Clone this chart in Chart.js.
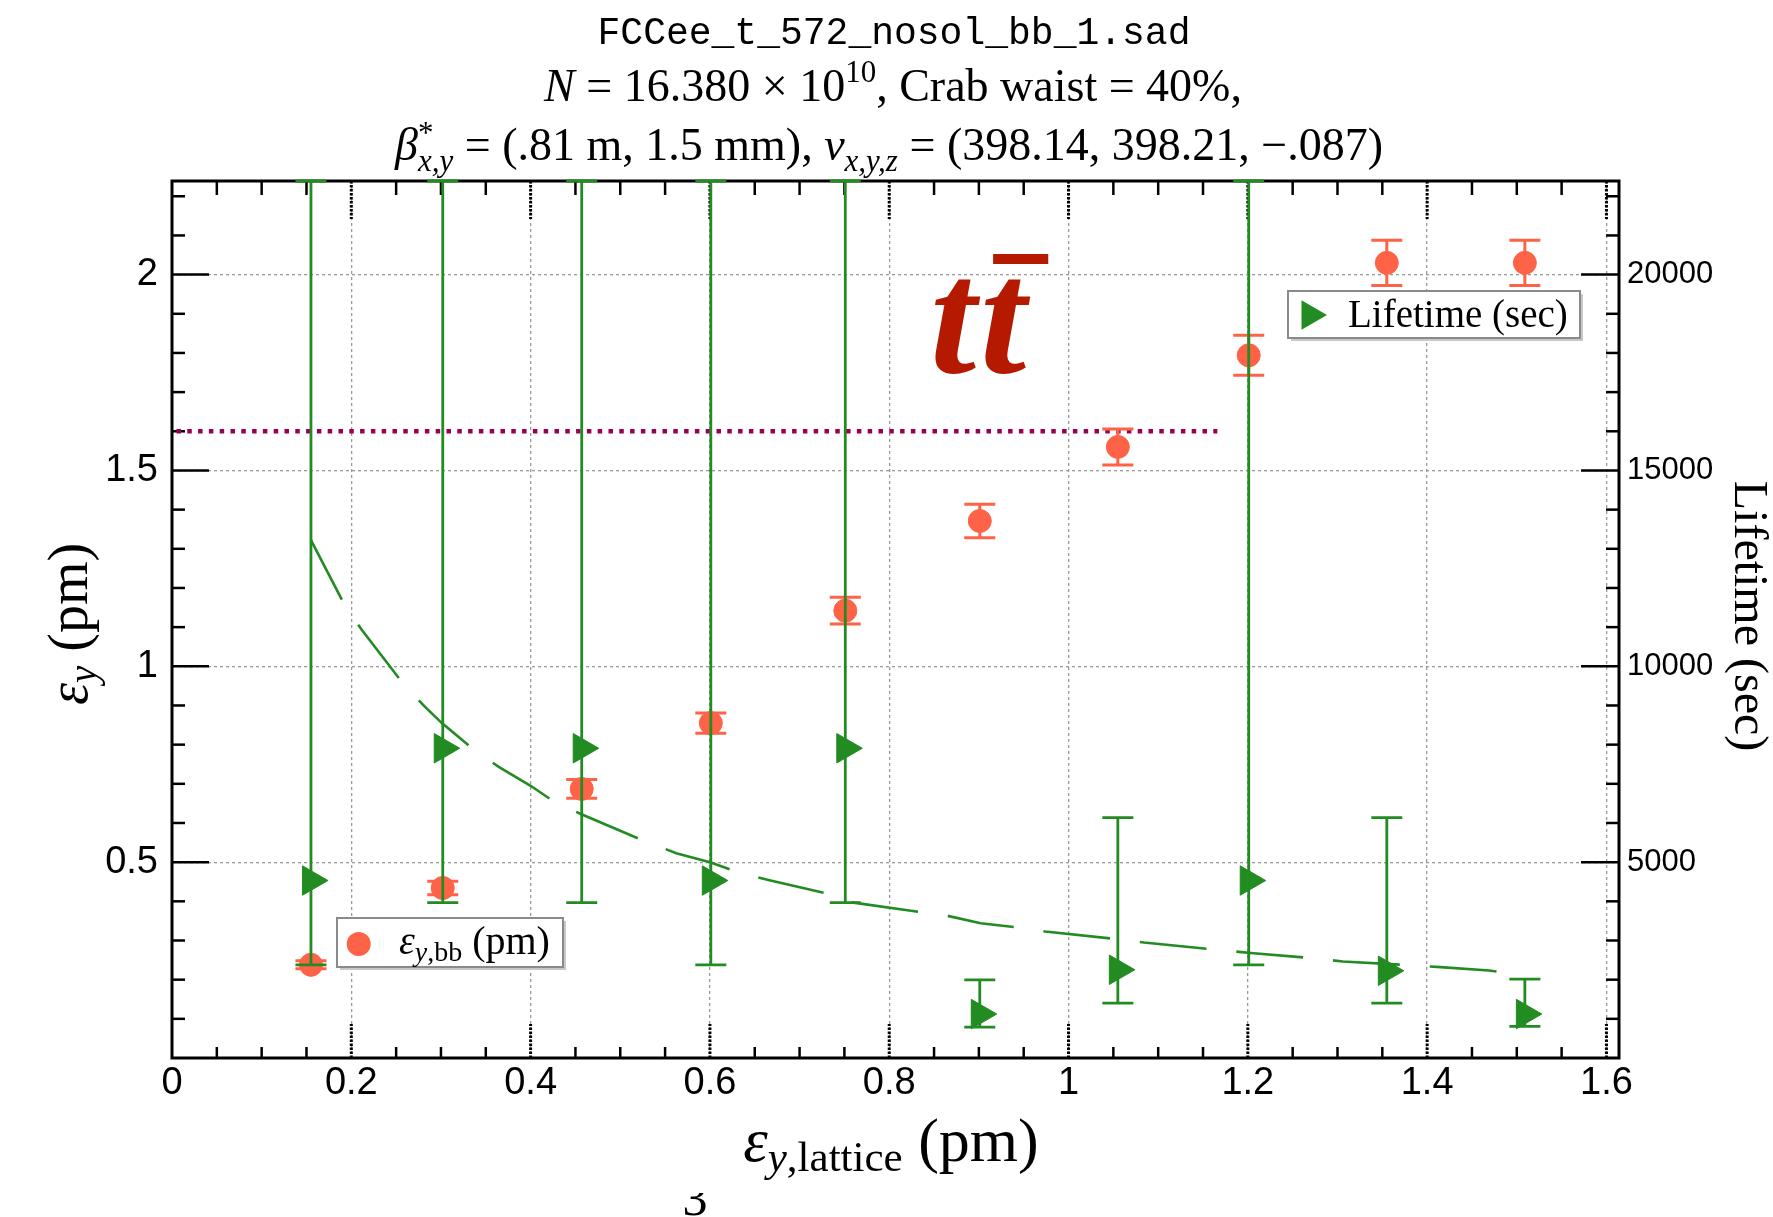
<!DOCTYPE html>
<html>
<head>
<meta charset="utf-8">
<script src="https://cdn.jsdelivr.net/npm/chart.js@4.4.1/dist/chart.umd.min.js"></script>
<style>
html,body{margin:0;padding:0;background:#fff;}
canvas{display:block;}
</style>
</head>
<body>
<canvas id="c" width="1773" height="1217" style="width:1773px;height:1217px"></canvas>
<script>
// ---------------- data ----------------
const xVals      = [0.155, 0.302, 0.457, 0.601, 0.751, 0.901, 1.055, 1.201, 1.355, 1.509];
const emitBB     = [0.238, 0.434, 0.687, 0.855, 1.142, 1.371, 1.560, 1.794, 2.030, 2.030];
const emitBBErr  = [0.010, 0.017, 0.024, 0.026, 0.034, 0.043, 0.046, 0.051, 0.058, 0.058];
const lifetime   = [4531, 7908, 7908, 4531, 7908, 1122, 2253, 4531, 2227, 1122];
const lifeLo     = [2380, 3969, 3969, 2380, 3969, 790, 1403, 2380, 1403, 806];
const lifeHi     = [22390, 22390, 22390, 22390, 22390, 1997, 6138, 22390, 6138, 2015];
const curveX     = [0.155, 0.192, 0.211, 0.258, 0.282, 0.301, 0.338, 0.364, 0.400, 0.429, 0.458, 0.530, 0.5625, 0.601, 0.634, 0.664, 0.734, 0.750, 0.837, 0.865, 0.902, 0.940, 0.974, 1.054, 1.084, 1.158, 1.203, 1.272, 1.306, 1.380, 1.415, 1.469, 1.4915];
const curveY     = [13220, 11590, 10950, 9550, 8970, 8550, 7850, 7440, 6950, 6500, 6210, 5510, 5230, 4990, 4720, 4550, 4180, 4000, 3720, 3630, 3440, 3340, 3230, 3035, 2950, 2780, 2680, 2550, 2465, 2370, 2320, 2235, 2168];
const refLineX   = [0.005, 1.166];
const refLineY   = [1.6, 1.6];
const xTickVals  = [0, 0.2, 0.4, 0.6, 0.8, 1, 1.2, 1.4, 1.6];
const xTickLabels= ['0', '0.2', '0.4', '0.6', '0.8', '1', '1.2', '1.4', '1.6'];
const yTickVals  = [0.5, 1, 1.5, 2];
const yTickLabels= ['0.5', '1', '1.5', '2'];
const y2TickVals = [5000, 10000, 15000, 20000];
const y2TickLabels=['5000', '10000', '15000', '20000'];

// ---------------- styles ----------------
const RED = '#FF6347';
const GREEN = '#228B22';
const SERIF = "'Liberation Serif','Times New Roman',serif";
const SANS = "'Liberation Sans',Arial,sans-serif";
const MONO = "'Liberation Mono','Courier New',monospace";

function partsWidth(ctx, parts){
  let w = 0;
  for (const p of parts){ ctx.font = p.f; if (!p.stack) w += ctx.measureText(p.t).width; }
  return w;
}
function drawParts(ctx, parts, x, y, align){
  const w = partsWidth(ctx, parts);
  let cx = align === 'center' ? x - w/2 : (align === 'right' ? x - w : x);
  ctx.textAlign = 'left'; ctx.textBaseline = 'alphabetic';
  for (const p of parts){
    ctx.font = p.f;
    ctx.fillText(p.t, cx, y + (p.dy || 0));
    if (!p.stack) cx += ctx.measureText(p.t).width;
  }
}

const errorBars = {
  id: 'errorBars',
  beforeDatasetDraw(chart, args){
    const ctx = chart.ctx;
    const x = chart.scales.x;
    if (args.index === 1){
      const y = chart.scales.y;
      ctx.save(); ctx.strokeStyle = RED; ctx.lineWidth = 3;
      xVals.forEach((xv, i) => {
        const px = x.getPixelForValue(xv);
        const p1 = y.getPixelForValue(emitBB[i] + emitBBErr[i]);
        const p2 = y.getPixelForValue(emitBB[i] - emitBBErr[i]);
        ctx.beginPath();
        ctx.moveTo(px, p1); ctx.lineTo(px, p2);
        ctx.moveTo(px - 15.5, p1); ctx.lineTo(px + 15.5, p1);
        ctx.moveTo(px - 15.5, p2); ctx.lineTo(px + 15.5, p2);
        ctx.stroke();
      });
      ctx.restore();
    }
    if (args.index === 0){
      const y2 = chart.scales.y2;
      ctx.save(); ctx.strokeStyle = GREEN; ctx.lineWidth = 2.8;
      xVals.forEach((xv, i) => {
        const px = x.getPixelForValue(xv);
        const p1 = y2.getPixelForValue(lifeHi[i]);
        const p2 = y2.getPixelForValue(lifeLo[i]);
        ctx.beginPath();
        ctx.moveTo(px, p1); ctx.lineTo(px, p2);
        ctx.moveTo(px - 15.5, p1); ctx.lineTo(px + 15.5, p1);
        ctx.moveTo(px - 15.5, p2); ctx.lineTo(px + 15.5, p2);
        ctx.stroke();
      });
      ctx.restore();
    }
  }
};

const frame = {
  id: 'frame',
  beforeDatasetsDraw(chart){
    const {ctx, chartArea:{left, right, top, bottom}, scales:{x, y, y2}} = chart;
    ctx.save();
    ctx.strokeStyle = '#000';
    const seg = (a, b, c, d) => { ctx.beginPath(); ctx.moveTo(a, b); ctx.lineTo(c, d); ctx.stroke(); };
    ctx.lineWidth = 2.5;
    for (let i = 1; i <= 22; i++){
      const py = y.getPixelForValue(i / 10);
      seg(left, py, left + (i % 5 === 0 ? 37 : 13), py);
    }
    for (let i = 1; i <= 22; i++){
      const py = y2.getPixelForValue(i * 1000);
      seg(right - (i % 5 === 0 ? 38 : 13), py, right, py);
    }
    for (let i = 1; i <= 32; i++){
      const px = x.getPixelForValue(i * 0.05);
      const major = i % 4 === 0;
      if (major){ ctx.setLineDash([2.5, 1.5]); ctx.lineWidth = 3; } else { ctx.setLineDash([]); ctx.lineWidth = 2.5; }
      seg(px, bottom, px, bottom - (major ? 34 : 11));
      seg(px, top, px, top + (major ? 38 : 14));
    }
    ctx.setLineDash([]);
    ctx.lineWidth = 3;
    ctx.strokeRect(left, top, right - left, bottom - top);
    ctx.restore();
  }
};

function legendBox(ctx, x0, y0, x1, y1){
  ctx.fillStyle = '#c8c8c8';
  ctx.fillRect(x0 + 3, y0 + 3, x1 - x0, y1 - y0);
  ctx.fillStyle = '#fff';
  ctx.fillRect(x0, y0, x1 - x0, y1 - y0);
  ctx.strokeStyle = '#8a8a8a'; ctx.lineWidth = 2;
  ctx.strokeRect(x0, y0, x1 - x0, y1 - y0);
}

const annotations = {
  id: 'annotations',
  afterDraw(chart){
    const ctx = chart.ctx;
    ctx.save();
    ctx.fillStyle = '#000';
    // title
    ctx.font = `38px ${MONO}`; ctx.textAlign = 'center'; ctx.textBaseline = 'alphabetic';
    ctx.fillText('FCCee_t_572_nosol_bb_1.sad', 894, 44);
    drawParts(ctx, [
      {t:'N', f:`italic 46px ${SERIF}`},
      {t:' = 16.380 × 10', f:`46px ${SERIF}`},
      {t:'10', f:`31px ${SERIF}`, dy:-19},
      {t:', Crab waist = 40%,', f:`46px ${SERIF}`}
    ], 893, 101, 'center');
    drawParts(ctx, [
      {t:'β', f:`italic 46px ${SERIF}`},
      {t:'*', f:`31px ${SERIF}`, dy:-17, stack:true},
      {t:'x,y', f:`italic 31px ${SERIF}`, dy:11},
      {t:' = (.81 m, 1.5 mm), ', f:`46px ${SERIF}`},
      {t:'ν', f:`italic 46px ${SERIF}`},
      {t:'x,y,z', f:`italic 31px ${SERIF}`, dy:11},
      {t:' = (398.14, 398.21, −.087)', f:`46px ${SERIF}`}
    ], 889, 160, 'center');
    // x axis title
    drawParts(ctx, [
      {t:'ε', f:`italic 62px ${SERIF}`},
      {t:'y', f:`italic 43px ${SERIF}`, dy:10},
      {t:',lattice', f:`43px ${SERIF}`, dy:10},
      {t:' (pm)', f:`62px ${SERIF}`}
    ], 891, 1161, 'center');
    // left axis title
    ctx.save(); ctx.translate(87, 624); ctx.rotate(-Math.PI/2);
    drawParts(ctx, [
      {t:'ε', f:`italic 56px ${SERIF}`},
      {t:'y', f:`italic 39px ${SERIF}`, dy:9},
      {t:' (pm)', f:`56px ${SERIF}`}
    ], 0, 0, 'center');
    ctx.restore();
    // right axis title
    ctx.save(); ctx.translate(1735, 616); ctx.rotate(Math.PI/2);
    drawParts(ctx, [{t:'Lifetime (sec)', f:`48px ${SERIF}`}], 0, 0, 'center');
    ctx.restore();
    // t tbar label
    ctx.fillStyle = '#B51A00';
    ctx.font = `italic bold 166px ${SERIF}`;
    ctx.textAlign = 'left';
    const wt = ctx.measureText('t').width;
    ctx.fillText('t', 930, 373);
    ctx.fillText('t', 930 + wt + 4, 373);
    ctx.fillRect(930 + wt + 17, 254, wt + 9, 10);
    // legends
    legendBox(ctx, 1288, 291, 1580, 338);
    ctx.fillStyle = GREEN;
    ctx.beginPath();
    ctx.moveTo(1327, 315); ctx.lineTo(1301.5, 300.3); ctx.lineTo(1301.5, 329.7); ctx.closePath(); ctx.fill();
    ctx.fillStyle = '#000';
    drawParts(ctx, [{t:'Lifetime (sec)', f:`39px ${SERIF}`}], 1348, 327, 'left');
    legendBox(ctx, 337, 918, 563, 967);
    ctx.fillStyle = RED;
    ctx.beginPath(); ctx.arc(358.7, 944, 12, 0, Math.PI * 2); ctx.fill();
    ctx.fillStyle = '#000';
    drawParts(ctx, [
      {t:'ε', f:`italic 40px ${SERIF}`},
      {t:'y', f:`italic 28px ${SERIF}`, dy:7},
      {t:',bb', f:`28px ${SERIF}`, dy:7},
      {t:' (pm)', f:`40px ${SERIF}`}
    ], 399, 954, 'left');
    // page number fragment at bottom
    ctx.save();
    ctx.beginPath(); ctx.rect(0, 1193, 1773, 30); ctx.clip();
    ctx.font = `50px ${SERIF}`; ctx.textAlign = 'center';
    ctx.fillText('3', 695, 1215);
    ctx.restore();
    ctx.restore();
  }
};

const gridCommon = { color: '#9a9a9a', lineWidth: 1.3, drawTicks: false };

new Chart(document.getElementById('c'), {
  type: 'scatter',
  data: {
    datasets: [
      {
        label: 'Lifetime (sec)', yAxisID: 'y2',
        data: xVals.map((xv, i) => ({x: xv, y: lifetime[i]})),
        pointStyle: 'triangle', rotation: 90, pointRadius: 17,
        backgroundColor: GREEN, borderColor: GREEN, borderWidth: 1
      },
      {
        label: 'εy,bb (pm)', yAxisID: 'y',
        data: xVals.map((xv, i) => ({x: xv, y: emitBB[i]})),
        pointStyle: 'circle', pointRadius: 11.5,
        backgroundColor: RED, borderColor: RED, borderWidth: 1
      },
      {
        label: 'curve', yAxisID: 'y2', showLine: true,
        data: curveX.map((xv, i) => ({x: xv, y: curveY[i]})),
        pointRadius: 0, borderColor: GREEN, borderWidth: 2.6, borderDash: [67, 30], tension: 0
      },
      {
        label: 'limit', yAxisID: 'y', showLine: true,
        data: refLineX.map((xv, i) => ({x: xv, y: refLineY[i]})),
        pointRadius: 0, borderColor: '#990055', borderWidth: 4.5, borderDash: [4.5, 6.3], borderCapStyle: 'butt'
      }
    ]
  },
  options: {
    responsive: false, animation: false, devicePixelRatio: 1,
    layout: { padding: { top: 181, left: 0, right: 0, bottom: 0 } },
    plugins: { legend: { display: false }, title: { display: false }, tooltip: { enabled: false } },
    scales: {
      x: {
        type: 'linear', position: 'bottom', min: 0, max: 1.614,
        afterBuildTicks: s => { s.ticks = xTickVals.map(v => ({value: v})); },
        afterFit: s => { s.height = 159; },
        ticks: { font: {family: SANS, size: 38}, color: '#000', padding: 3, maxRotation: 0, autoSkip: false,
                 callback: (v, i) => xTickLabels[i] },
        grid: gridCommon,
        border: { display: false, dash: [3, 3] }
      },
      y: {
        type: 'linear', position: 'left', min: 0, max: 2.239,
        afterBuildTicks: s => { s.ticks = yTickVals.map(v => ({value: v})); },
        afterFit: s => { s.width = 172; },
        ticks: { font: {family: SANS, size: 38}, color: '#000', padding: 14, autoSkip: false,
                 callback: (v, i) => yTickLabels[i] },
        grid: gridCommon,
        border: { display: false, dash: [3, 3] }
      },
      y2: {
        type: 'linear', position: 'right', min: 0, max: 22390,
        afterBuildTicks: s => { s.ticks = y2TickVals.map(v => ({value: v})); },
        afterFit: s => { s.width = 154; },
        ticks: { font: {family: SANS, size: 31}, color: '#000', padding: 8, autoSkip: false,
                 callback: (v, i) => y2TickLabels[i] },
        grid: { display: false, drawTicks: false },
        border: { display: false }
      }
    }
  },
  plugins: [errorBars, frame, annotations]
});
</script>
</body>
</html>
